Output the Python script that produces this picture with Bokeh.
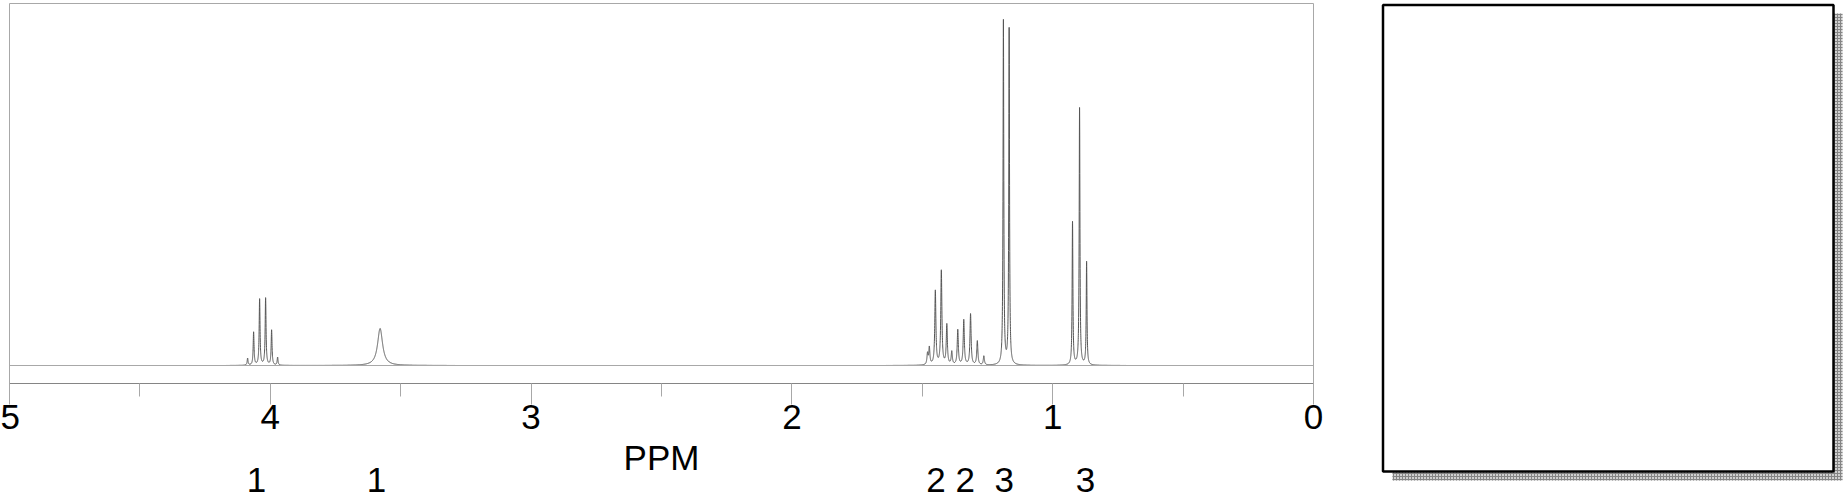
import numpy as np
from bokeh.plotting import figure
from bokeh.models import Range1d, FixedTicker, LinearAxis, Span
from bokeh.layouts import row
from bokeh.embed import file_html
from bokeh.resources import INLINE

# ---- data ----
major_ticks = [0, 1, 2, 3, 4, 5]
minor_ticks = [0.5, 1.5, 2.5, 3.5, 4.5]

# spectrum regions drawn (ppm, high -> low)
region_start = [4.17, 2.06]
region_end = [2.90, 0.33]

# peak list: position (ppm), height (intensity), half width (ppm)
peak_ppm = [4.087, 4.064, 4.041, 4.018, 3.995, 3.972,
            3.579,
            1.480, 1.473, 1.450, 1.427, 1.406, 1.387, 1.364, 1.341, 1.315, 1.289, 1.264,
            1.189, 1.167,
            0.924, 0.897, 0.870]
peak_height = [7, 33, 66, 67, 35, 8,
               37,
               11, 17, 74, 94, 40, 13, 35, 45, 51, 24, 9,
               344, 336,
               143, 257, 103]
peak_hwhm = [0.0020] * 6 + [0.0115] + [0.0025] * 11 + [0.0017] * 2 + [0.0017] * 3

# integration labels
integ_ppm = [4.053, 3.593, 1.448, 1.335, 1.186, 0.874]
integ_text = ["1", "1", "2", "2", "3", "3"]

FONT = "Liberation Sans"

p = figure(width=1328, height=496, x_range=Range1d(5, 0), y_range=Range1d(-18, 362),
           output_backend="svg", toolbar_location=None, y_axis_location=None,
           min_border_left=9, min_border_right=15, min_border_top=3, min_border_bottom=113)
p.xgrid.visible = False
p.ygrid.visible = False
p.outline_line_color = "#a8a8a8"
p.outline_line_width = 1
p.background_fill_color = "white"
p.border_fill_color = "white"

ax = p.xaxis[0]
ax.ticker = FixedTicker(ticks=major_ticks, minor_ticks=minor_ticks)
ax.axis_line_color = "#858585"
ax.major_tick_line_color = "#a8a8a8"
ax.minor_tick_line_color = "#a8a8a8"
ax.major_tick_in = 0
ax.major_tick_out = 21
ax.minor_tick_in = 0
ax.minor_tick_out = 13
ax.major_label_text_font = FONT
ax.major_label_text_font_size = "35px"
ax.major_label_text_color = "black"
ax.major_label_standoff = 0
ax.axis_label = "PPM"
ax.axis_label_text_font = FONT
ax.axis_label_text_font_size = "35px"
ax.axis_label_text_font_style = "normal"
ax.axis_label_text_color = "black"
ax.axis_label_standoff = 6

# integration values as a second, line-less axis
ax2 = LinearAxis(ticker=FixedTicker(ticks=integ_ppm, minor_ticks=[]),
                 major_label_overrides={k: t for k, t in zip(integ_ppm, integ_text)})
ax2.axis_line_color = None
ax2.major_tick_line_color = None
ax2.minor_tick_line_color = None
ax2.major_tick_in = 0
ax2.major_tick_out = 0
ax2.minor_tick_in = 0
ax2.minor_tick_out = 0
ax2.major_label_text_font = FONT
ax2.major_label_text_font_size = "35px"
ax2.major_label_text_color = "black"
ax2.major_label_standoff = -12
p.add_layout(ax2, "below")

# baseline
p.add_layout(Span(location=0, dimension="width", line_color="#a8a8a8", line_width=1))

pp = np.array(peak_ppm)
ph = np.array(peak_height, dtype=float)
pw = np.array(peak_hwhm)
for a, b in zip(region_start, region_end):
    xs = np.arange(b, a, 0.0002)
    ys = (ph[None, :] / (1.0 + ((xs[:, None] - pp[None, :]) / pw[None, :]) ** 2)).sum(axis=1)
    p.line(xs, ys, line_color="#555555", line_width=1)

# right-hand empty box with hatched shadow
p2 = figure(width=516, height=496, x_range=Range1d(0, 516), y_range=Range1d(496, 0),
            output_backend="svg", toolbar_location=None, x_axis_location=None,
            y_axis_location=None, min_border=0)
p2.xgrid.visible = False
p2.ygrid.visible = False
p2.outline_line_color = None
p2.background_fill_color = "white"
p2.border_fill_color = "white"
p2.quad(left=[64], right=[514], top=[13], bottom=[480], fill_color="#d0d0d0",
        hatch_pattern="+", hatch_color="#858585", hatch_scale=3, hatch_weight=1,
        line_color=None)
p2.quad(left=[54.5], right=[505], top=[4.5], bottom=[471], fill_color="white",
        line_color="black", line_width=2.5)

for fig in (p, p2):
    if "frame_align" in fig.properties():
        fig.frame_align = False

layout = row(p, p2)
open("out.html", "w").write(file_html(layout, INLINE))
